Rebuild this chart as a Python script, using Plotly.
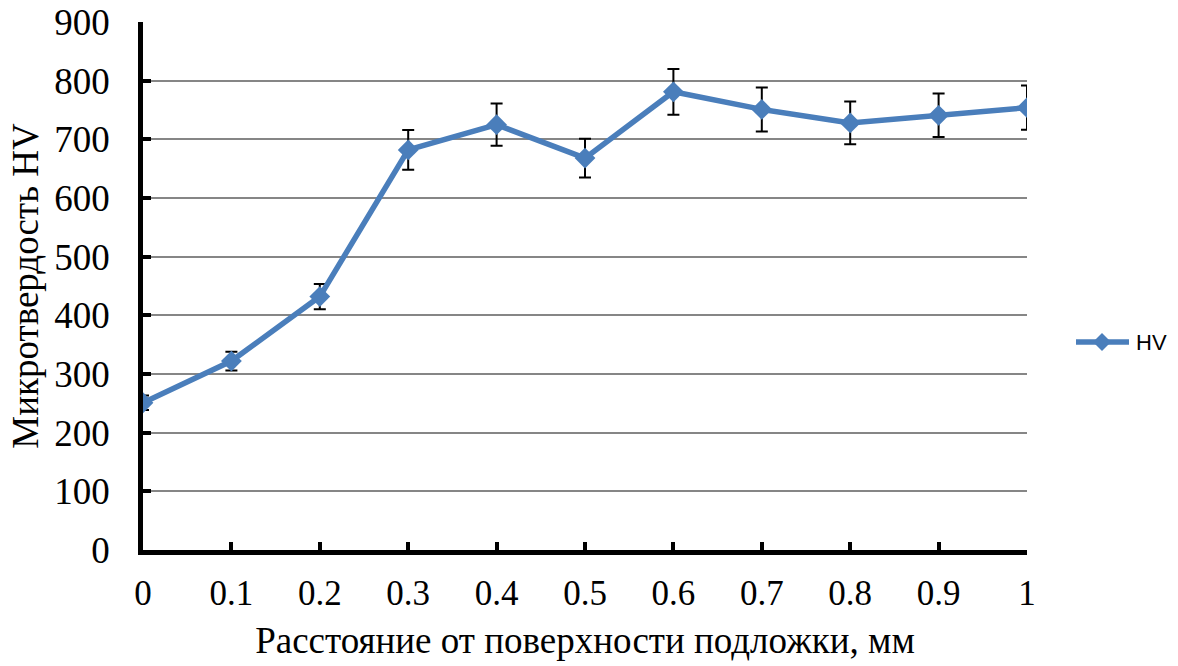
import plotly.graph_objects as go

distance_mm = [0, 0.1, 0.2, 0.3, 0.4, 0.5, 0.6, 0.7, 0.8, 0.9, 1.0]
hv_values = [251, 322, 432, 682, 725, 668, 781, 751, 728, 741, 754]
hv_errors = [12.5, 16, 21.6, 34, 36, 33, 39, 37.5, 36.4, 37, 37.7]
y_ticks = [0, 100, 200, 300, 400, 500, 600, 700, 800, 900]
x_ticks = [0, 0.1, 0.2, 0.3, 0.4, 0.5, 0.6, 0.7, 0.8, 0.9, 1]
x_tick_labels = ["0", "0.1", "0.2", "0.3", "0.4", "0.5", "0.6", "0.7", "0.8", "0.9", "1"]
series_name = "HV"

serif = "Liberation Serif, Times New Roman, serif"
blue = "#4A7EBB"

fig = go.Figure()
fig.add_trace(go.Scatter(
    x=distance_mm, y=hv_values, name=series_name, mode="lines+markers",
    line=dict(color=blue, width=5.5),
    marker=dict(symbol="diamond", size=16, color=blue),
    error_y=dict(type="data", array=hv_errors, visible=True, color="black", thickness=2, width=6),
    showlegend=False,
))

# Manual legend (longer line sample like the reference)
L, R, T, B = 143, 151, 22, 116
pw, ph = 1178 - L - R, 666 - T - B
def px(x): return (x - L) / pw
def py(y): return (666 - B - y) / ph
ly = 342
fig.add_shape(type="line", xref="paper", yref="paper",
              x0=px(1076), x1=px(1129), y0=py(ly), y1=py(ly),
              line=dict(color=blue, width=5.5))
cx = 1102
fig.add_shape(type="path", xref="paper", yref="paper",
              path=f"M {px(cx-9)} {py(ly)} L {px(cx)} {py(ly-9)} L {px(cx+9)} {py(ly)} L {px(cx)} {py(ly+9)} Z",
              fillcolor=blue, line=dict(color=blue, width=0))
fig.add_annotation(xref="paper", yref="paper", x=px(1134), y=py(ly), xanchor="left", yanchor="middle",
                   text=series_name, showarrow=False,
                   font=dict(family="Liberation Sans, Arial, sans-serif", size=22, color="black"))

fig.update_layout(
    width=1178, height=666,
    margin=dict(l=L, r=R, t=T, b=B),
    plot_bgcolor="white", paper_bgcolor="white",
    showlegend=False,
    xaxis=dict(
        range=[0, 1], tickvals=x_ticks, ticktext=x_tick_labels,
        showgrid=False, zeroline=False, automargin=False,
        showline=True, linecolor="black", linewidth=4.5,
        ticks="inside", ticklen=8, tickwidth=4, tickcolor="black",
        ticklabelstandoff=8,
        tickfont=dict(family=serif, size=35, color="black"),
        title=dict(text="Расстояние от поверхности подложки, мм",
                   font=dict(family=serif, size=37, color="black"), standoff=17),
    ),
    yaxis=dict(
        range=[0, 900], tickvals=y_ticks,
        showgrid=True, gridcolor="#868686", gridwidth=2,
        zeroline=False, automargin=False,
        showline=True, linecolor="black", linewidth=4.5,
        ticks="inside", ticklen=8, tickwidth=4, tickcolor="black",
        ticklabelstandoff=21,
        tickfont=dict(family=serif, size=37, color="black"),
        title=dict(text="Микротвердость HV",
                   font=dict(family=serif, size=37, color="black"), standoff=6),
    ),
)

fig.write_html("out.html")
